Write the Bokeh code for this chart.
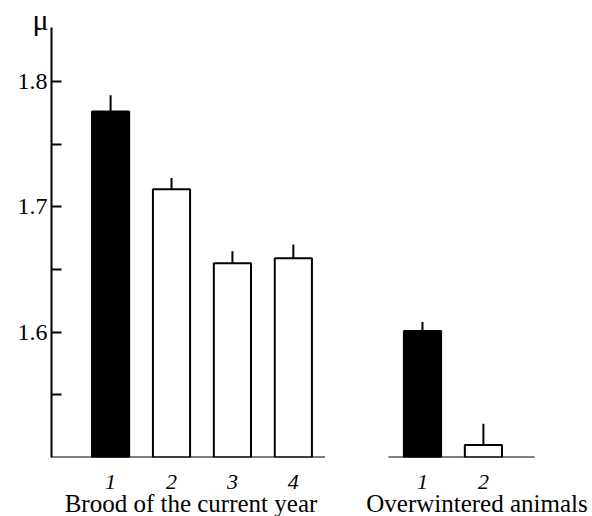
from bokeh.plotting import figure
from bokeh.models import FactorRange, Range1d, FixedTicker, ColumnDataSource
from bokeh.core.properties import value
from bokeh.embed import file_html
from bokeh.resources import INLINE

# ---- data ----
groups = ["Brood of the current year", "Overwintered animals"]
brood_items = ["1", "2", "3", "4"]
over_items = ["1", "2"]
brood_means = [1.776, 1.714, 1.655, 1.659]
brood_errs = [0.013, 0.009, 0.0095, 0.011]
over_means = [1.601, 1.510]
over_errs = [0.007, 0.017]
brood_fill = ["black", "white", "white", "white"]
over_fill = ["black", "white"]
y_ticks = [1.6, 1.7, 1.8]
y_minor_ticks = [1.55, 1.65, 1.75]
y_unit = "μ"
y_base = 1.5
y_top = 1.843

FONT = "Liberation Serif"

factors = [(groups[0], i) for i in brood_items] + [(groups[1], i) for i in over_items]
means = brood_means + over_means
errs = brood_errs + over_errs
fills = brood_fill + over_fill

src = ColumnDataSource(dict(
    x=factors,
    top=means,
    bottom=[y_base] * len(means),
    etop=[m + e for m, e in zip(means, errs)],
    fill=fills,
))

xr = FactorRange(*factors, group_padding=1.12, range_padding=0.47,
                 range_padding_units="absolute")

p = figure(width=592, height=516, x_range=xr, y_range=Range1d(y_base, y_top),
           output_backend="svg", toolbar_location=None,
           min_border_left=51, min_border_right=50, min_border_top=27,
           min_border_bottom=59)
p.outline_line_color = None
p.xgrid.visible = False
p.ygrid.visible = False
p.background_fill_color = "white"
p.border_fill_color = "white"

# bars
p.vbar(x="x", top="top", bottom="bottom", width=0.61, source=src,
       fill_color="fill", line_color="black", line_width=2)
# error bars (upper only)
p.segment(x0="x", y0="top", x1="x", y1="etop", source=src,
          line_color="black", line_width=2)

# broken baselines for the two groups
p.segment(x0=[(groups[0], brood_items[0], -0.97), (groups[1], over_items[0], -0.56)],
          y0=[y_base, y_base],
          x1=[(groups[0], brood_items[-1], 0.52), (groups[1], over_items[-1], 0.84)],
          y1=[y_base, y_base],
          line_color="black", line_width=2)

# y axis
ya = p.yaxis[0]
ya.ticker = FixedTicker(ticks=y_ticks, minor_ticks=y_minor_ticks)
ya.axis_line_color = "black"
ya.axis_line_width = 2
ya.major_tick_in = 10
ya.major_tick_out = 0
ya.minor_tick_in = 10
ya.minor_tick_out = 0
ya.major_tick_line_width = 2
ya.minor_tick_line_width = 2
ya.major_tick_line_color = "black"
ya.minor_tick_line_color = "black"
ya.major_label_text_font = FONT
ya.major_label_text_font_size = "24px"
ya.major_label_text_color = "black"
ya.major_label_standoff = 4

# x axis
xa = p.xaxis[0]
xa.axis_line_color = None
xa.major_tick_line_color = None
xa.minor_tick_line_color = None
xa.major_label_text_font = FONT
xa.major_label_text_font_style = "italic"
xa.major_label_text_font_size = "22px"
xa.major_label_text_color = "black"
xa.major_label_standoff = 11
xa.group_text_color = None
xa.group_text_font_size = "1px"
xa.separator_line_color = None

# unit label at the top of the y axis
p.text(x=[(groups[0], brood_items[0], -0.97)], y=[y_top], text=[y_unit],
       x_offset=-3, y_offset=-8, text_align="right", text_baseline="alphabetic",
       text_font=value(FONT), text_font_size="30px", text_color="black",
       level="annotation")

# group labels
p.text(x=groups, y=[y_base, y_base], text=groups, x_offset=[-11, 24], y_offset=[46, 46],
       text_align="center", text_baseline="alphabetic",
       text_font=value(FONT), text_font_size="25px", text_color="black",
       level="annotation")

open("out.html", "w").write(file_html(p, INLINE))
